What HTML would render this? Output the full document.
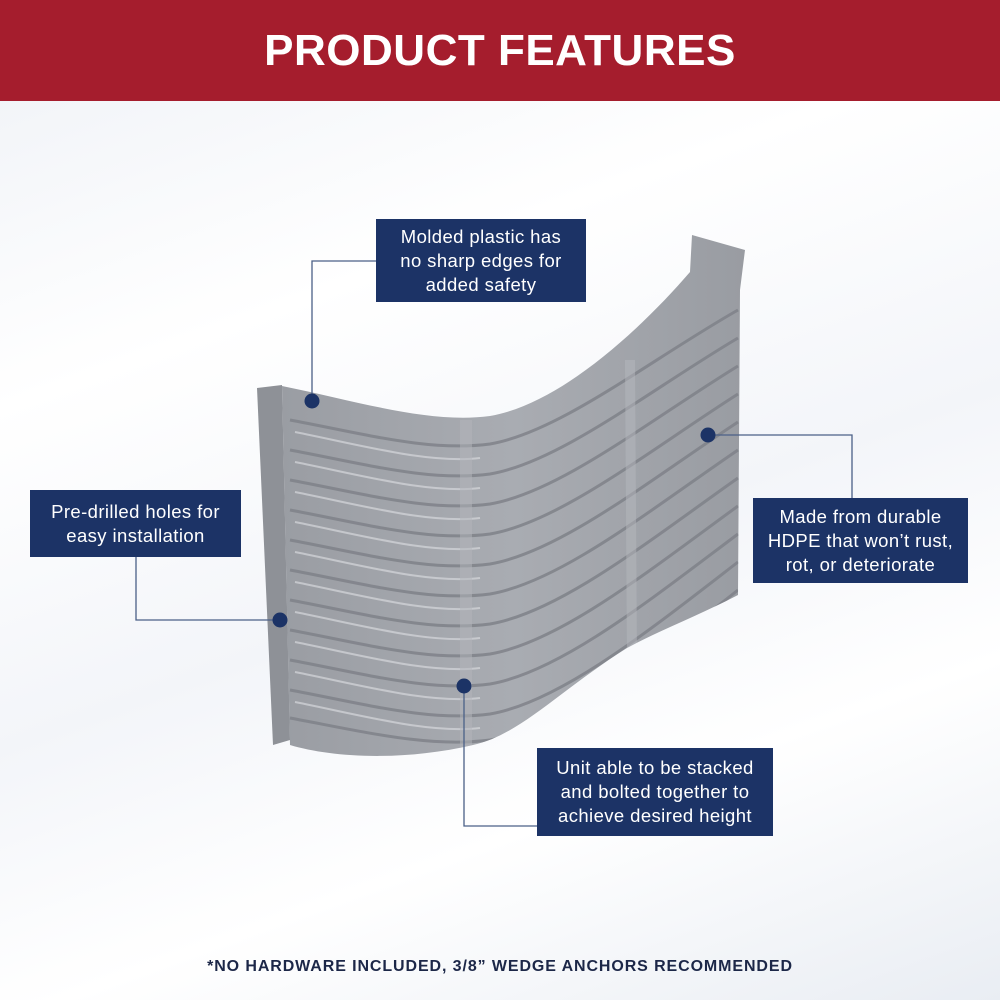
<!DOCTYPE html>
<html><head><meta charset="utf-8"><style>
html,body{margin:0;padding:0}
body{width:1000px;height:1000px;position:relative;overflow:hidden;font-family:"Liberation Sans",sans-serif;background:linear-gradient(160deg,#eef1f6 0%,#ffffff 30%,#f3f5f9 55%,#ffffff 75%,#e9edf3 100%)}
.hdr{position:absolute;left:0;top:0;width:1000px;height:101px;background:#a51d2d;color:#fff;font-weight:bold;font-size:44px;text-align:center;line-height:101px;letter-spacing:0.5px}
.box{position:absolute;background:#1c3366;color:#fff;text-align:center;font-size:18.5px;line-height:24px;letter-spacing:0.4px;box-sizing:border-box;display:flex;align-items:center;justify-content:center}
.foot{position:absolute;left:0;width:1000px;top:958px;text-align:center;font-weight:bold;font-size:16px;letter-spacing:0.9px;color:#1c2748}
svg{position:absolute;left:0;top:0}
</style></head><body>
<svg width="1000" height="1000">
<defs>
<linearGradient id="g" x1="0" x2="1"><stop offset="0" stop-color="#9a9da3"/><stop offset="0.5" stop-color="#a9acb2"/><stop offset="1" stop-color="#999ca2"/></linearGradient>
<clipPath id="c"><path d="M282,386 C360,402 430,424 490,416 C560,404 640,330 690,272 L692,235 L745,250 L740,290 L738,595 C700,615 660,630 627,648 C560,690 520,735 473,745 C400,762 330,757 290,745 Z"/></clipPath>
</defs>
<polygon points="257,388 282,385 290,740 273,745" fill="#8e9197"/>
<path d="M282,386 C360,402 430,424 490,416 C560,404 640,330 690,272 L692,235 L745,250 L740,290 L738,595 C700,615 660,630 627,648 C560,690 520,735 473,745 C400,762 330,757 290,745 Z" fill="url(#g)"/>
<g clip-path="url(#c)">
<g fill="none" stroke="#7d8087" stroke-width="3" opacity="0.8">
<path d="M290,420 C365,434 430,452 490,444 C560,432 650,360 738,310"/>
<path d="M290,450 C365,464 430,482 490,474 C560,462 650,390 738,338"/>
<path d="M290,480 C365,494 430,512 490,504 C560,492 650,420 738,366"/>
<path d="M290,510 C365,524 430,542 490,534 C560,522 650,450 738,394"/>
<path d="M290,540 C365,554 430,572 490,564 C560,552 650,480 738,422"/>
<path d="M290,570 C365,584 430,602 490,594 C560,582 650,510 738,450"/>
<path d="M290,600 C365,614 430,632 490,624 C560,612 650,540 738,478"/>
<path d="M290,630 C365,644 430,662 490,654 C560,642 650,570 738,506"/>
<path d="M290,660 C365,674 430,692 490,684 C560,672 650,600 738,534"/>
<path d="M290,690 C365,704 430,722 490,714 C560,702 650,630 738,562"/>
<path d="M290,718 C365,732 430,748 490,740 C560,728 650,660 738,590"/>
</g>
<g fill="none" stroke="#d6d8dc" stroke-width="2" opacity="0.7">
<path d="M295,432 C365,446 430,464 480,458"/><path d="M295,462 C365,476 430,494 480,488"/><path d="M295,492 C365,506 430,524 480,518"/><path d="M295,522 C365,536 430,554 480,548"/><path d="M295,552 C365,566 430,584 480,578"/><path d="M295,582 C365,596 430,614 480,608"/><path d="M295,612 C365,626 430,644 480,638"/><path d="M295,642 C365,656 430,674 480,668"/><path d="M295,672 C365,686 430,704 480,698"/><path d="M295,702 C365,716 430,734 480,728"/>
</g>
<rect x="460" y="420" width="12" height="330" fill="#b4b6bb" opacity="0.5"/>
<path d="M630,360 L632,660" stroke="#b6b8bd" stroke-width="10" opacity="0.5"/>
</g>
<g fill="none" stroke="#4b6087" stroke-width="1.3">
<polyline points="376,261 312,261 312,401"/>
<polyline points="280,620 136,620 136,557"/>
<polyline points="708,435 852,435 852,498"/>
<polyline points="464,686 464,826 537,826"/>
</g>
<g fill="#1c3366">
<circle cx="312" cy="401" r="7.5"/><circle cx="280" cy="620" r="7.5"/><circle cx="708" cy="435" r="7.5"/><circle cx="464" cy="686" r="7.5"/>
</g>
</svg>
<div class="hdr">PRODUCT FEATURES</div>
<div class="box" style="left:376px;top:219px;width:210px;height:83px">Molded plastic has<br>no sharp edges for<br>added safety</div>
<div class="box" style="left:30px;top:490px;width:211px;height:67px">Pre-drilled holes for<br>easy installation</div>
<div class="box" style="left:753px;top:498px;width:215px;height:85px">Made from durable<br>HDPE that won’t rust,<br>rot, or deteriorate</div>
<div class="box" style="left:537px;top:748px;width:236px;height:88px">Unit able to be stacked<br>and bolted together to<br>achieve desired height</div>
<div class="foot">*NO HARDWARE INCLUDED, 3/8” WEDGE ANCHORS RECOMMENDED</div>
</body></html>
